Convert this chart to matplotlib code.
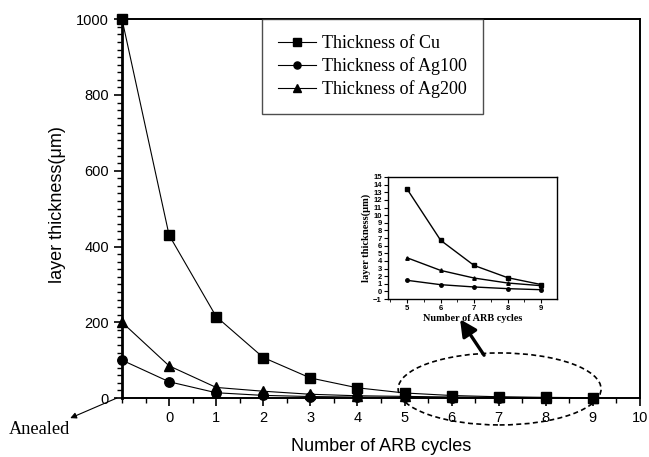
import numpy as np
import matplotlib
matplotlib.use("Agg")
import matplotlib.pyplot as plt
from matplotlib.patches import Ellipse
from matplotlib.ticker import MultipleLocator

# ARB cycle index (-1 = annealed starting sheet)
cycles = [-1, 0, 1, 2, 3, 4, 5, 6, 7, 8, 9]
cu = [1000, 430, 215, 107, 53, 27, 13.4, 6.7, 3.4, 1.8, 0.9]
ag100 = [100, 43, 14, 7, 4, 2.5, 1.45, 0.88, 0.58, 0.36, 0.22]
ag200 = [200, 85, 28, 18, 10, 6, 4.4, 2.75, 1.75, 1.1, 0.75]
series_labels = ["Thickness of Cu", "Thickness of Ag100", "Thickness of Ag200"]
markers = ["s", "o", "^"]

xticks_main = list(range(0, 11))
yticks_main = [0, 200, 400, 600, 800, 1000]
yticks_inset = list(range(-1, 16))
xticks_inset = [5, 6, 7, 8, 9]

SANS = "Liberation Sans"
SERIF = "Liberation Serif"

fig = plt.figure(figsize=(6.49, 4.57), dpi=100)
ax = fig.add_axes([0.188, 0.129, 0.798, 0.829])

for vals, m, lab in zip([cu, ag100, ag200], markers, series_labels):
    ms = 7.5 if m == "^" else 6.8
    ax.plot(cycles, vals, color="black", lw=0.8, marker=m, ms=ms,
            label=lab, clip_on=False, zorder=3)

ax.set_xlim(-1, 10)
ax.set_ylim(0, 1000)
ax.set_xticks(xticks_main)
ax.set_yticks(yticks_main)
ax.xaxis.set_minor_locator(MultipleLocator(0.5))
ax.yaxis.set_minor_locator(MultipleLocator(20))
ax.tick_params(which="major", direction="out", length=6, width=1.2,
               labelsize=10.5)
ax.tick_params(which="minor", direction="out", length=3.5, width=1.0)
for t in ax.get_xticklabels() + ax.get_yticklabels():
    t.set_fontfamily(SANS)
for s in ax.spines.values():
    s.set_linewidth(1.4)
ax.spines["left"].set_linewidth(2.0)

ax.set_xlabel("Number of ARB cycles", fontsize=13, fontfamily=SANS)
ax.set_ylabel("layer thickness(\u03bcm)", fontsize=13, fontfamily=SANS)
ax.xaxis.set_label_coords(0.5, -0.106)
ax.yaxis.set_label_coords(-0.108, 0.51)

leg = ax.legend(loc="upper left", bbox_to_anchor=(0.271, 1.0),
                prop={"family": SERIF, "size": 13.0}, frameon=True,
                fancybox=False, handlelength=2.1, handletextpad=0.35,
                borderpad=0.87, labelspacing=0.29, borderaxespad=0,
                markerscale=0.75)
leg.get_frame().set_edgecolor("#222222")
leg.get_frame().set_linewidth(1.0)

# dashed ellipse around the late cycles
ell = Ellipse((7.02, 24), width=4.31, height=190, fill=False,
              edgecolor="black", lw=1.2, linestyle=(0, (3, 2)),
              clip_on=False, zorder=4)
ax.add_patch(ell)
ax.annotate("", xy=(6.18, 208), xytext=(6.69, 113),
            arrowprops=dict(arrowstyle="-|>", lw=2.4, color="black",
                            mutation_scale=25, shrinkA=0, shrinkB=0))

# annealed marker
ax.annotate("", xy=(-0.10, -0.053), xycoords="axes fraction",
            xytext=(-0.01, 0.0), textcoords="axes fraction",
            arrowprops=dict(arrowstyle="-|>", lw=0.8, color="black",
                            mutation_scale=9, shrinkA=0, shrinkB=0),
            annotation_clip=False)
ax.text(-0.218, -0.082, "Anealed", transform=ax.transAxes,
        fontfamily=SERIF, fontsize=13.2, ha="left", va="center")

# inset: cycles 5-9
ins = fig.add_axes([0.598, 0.3457, 0.2604, 0.267])
for vals, m in zip([cu, ag100, ag200], markers):
    ins.plot(cycles[6:], vals[6:], color="black", lw=1.0, marker=m, ms=2.5)
ins.set_xlim(4.43, 9.48)
ins.set_ylim(-1, 15)
ins.set_xticks(xticks_inset)
ins.set_yticks(yticks_inset)
ins.xaxis.set_minor_locator(MultipleLocator(0.5))
ins.tick_params(which="major", direction="out", length=3, width=0.8,
                labelsize=5.5, pad=1.5)
ins.tick_params(which="minor", direction="out", length=2, width=0.6)
for t in ins.get_xticklabels() + ins.get_yticklabels():
    t.set_fontfamily(SANS)
    t.set_fontweight("bold")
for s in ins.spines.values():
    s.set_linewidth(1.0)
ins.set_xlabel("Number of ARB cycles", fontsize=7.4, fontfamily=SERIF,
               fontweight="bold", labelpad=1)
ins.set_ylabel("layer thickness(\u03bcm)", fontsize=7.6, fontfamily=SERIF,
               fontweight="bold", labelpad=1)
ins.yaxis.set_label_coords(-0.10, 0.5)

fig.savefig("out.png", dpi=100)
